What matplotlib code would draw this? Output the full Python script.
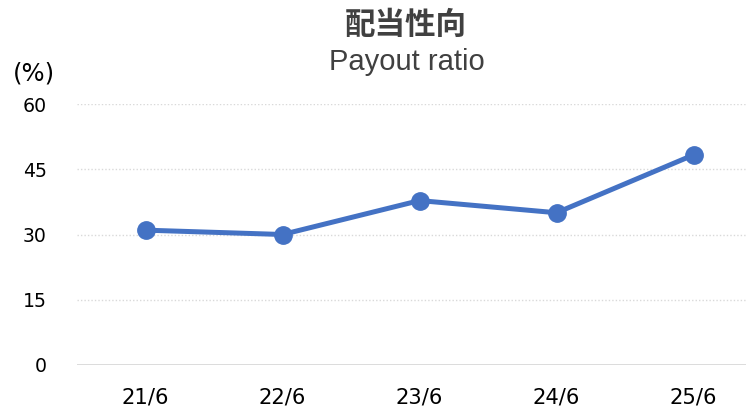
import matplotlib; matplotlib.use("Agg")
import matplotlib.pyplot as plt

# payout ratio by fiscal year-end (%)
YEARS = ["21/6", "22/6", "23/6", "24/6", "25/6"]
PAYOUT = [31.0, 30.0, 37.8, 35.0, 48.3]
YTICKS = [0, 15, 30, 45, 60]

BLUE = "#4472C4"
TXT = "#404040"
GRID = "#D9D9D9"
plt.rcParams["font.family"] = ["DejaVu Sans", "Noto Sans CJK JP"]

fig = plt.figure(figsize=(7.46, 4.08), dpi=100)
ax = fig.add_axes([77/746, 43/408, 670/746, 261/408])

xs = range(len(YEARS))
ax.plot(xs, PAYOUT, color=BLUE, lw=3.6, marker="o", ms=12.5, solid_capstyle="round", zorder=3)

ax.set_xlim(-0.5, 4.39)
ax.set_ylim(0, 60)
ax.set_yticks(YTICKS)
ax.set_xticks(list(xs)); ax.set_xticklabels(YEARS)
for y in YTICKS[1:]:
    ax.axhline(y, color=GRID, lw=1.0, ls=(0, (1, 1.5)), zorder=1)
ax.axhline(0, color=GRID, lw=1.3, zorder=1)
for s in ax.spines.values():
    s.set_visible(False)
ax.tick_params(length=0, colors="black")
ax.tick_params(axis="y", pad=21.6, labelsize=13.6)
ax.tick_params(axis="x", pad=16, labelsize=15.2)

fig.text(0.544, 0.938, "配当性向", ha="center", va="center", fontsize=22, fontweight="bold",
         color=TXT, family=["Noto Sans CJK JP", "DejaVu Sans"])
fig.text(0.545, 0.849, "Payout ratio", ha="center", va="center", fontsize=21, color=TXT,
         family=["Liberation Sans", "DejaVu Sans"])
fig.text(34/746, 1 - 73/408, "(%)", ha="center", va="center", fontsize=17.5, color="black")

fig.savefig("out.png", dpi=100)
